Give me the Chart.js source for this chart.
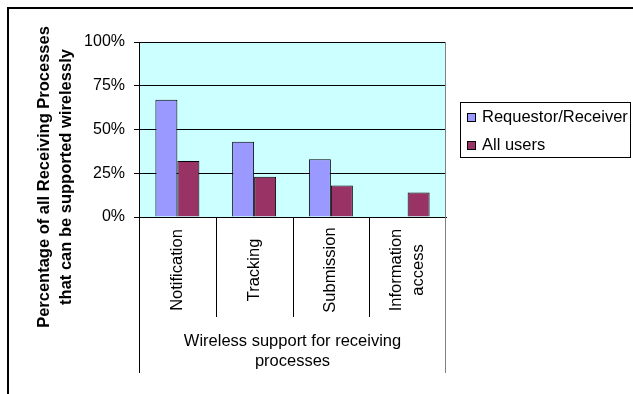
<!DOCTYPE html>
<html>
<head>
<meta charset="utf-8">
<script src="https://cdn.jsdelivr.net/npm/chart.js@4/dist/chart.umd.min.js"></script>
<style>
  html, body { margin: 0; padding: 0; background: #fff; overflow: hidden; }
  #wrap { position: relative; width: 633px; height: 394px; }
</style>
</head>
<body>
<div id="wrap"><canvas id="chart"></canvas></div>
<script>
// Data
const categories = ['Notification', 'Tracking', 'Submission', ['Information', 'access']];
const requestorReceiver = [67, 43, 33, 0];
const allUsers = [32, 23, 18, 14];
const yTicks = [0, 25, 50, 75, 100];
const seriesNames = ['Requestor/Receiver', 'All users'];
const yTitle = ['Percentage of all Receiving Processes', 'that can be supported wirelessly'];
const xTitle = ['Wireless support for receiving', 'processes'];

const FONT = '"Liberation Sans", Arial, sans-serif';
const COLORS = { blue: '#9999FF', red: '#993366', plot: '#CCFFFF', grid: '#000000', edge: '#808080' };

// Everything Excel draws around the plot: frame, category boxes, titles, legend
const excelBits = {
  id: 'excelBits',
  beforeDraw(chart) {
    const { ctx, chartArea: a } = chart;
    ctx.save();
    ctx.fillStyle = '#fff';
    ctx.fillRect(0, 0, chart.width, chart.height);
    ctx.fillStyle = COLORS.plot;
    ctx.fillRect(a.left, a.top, a.right - a.left, a.bottom - a.top);
    ctx.restore();
  },
  afterDraw(chart) {
    const { ctx, chartArea: a, scales: { x } } = chart;
    const n = chart.data.labels.length;
    ctx.save();
    ctx.lineWidth = 1;

    // category separators below the axis
    ctx.strokeStyle = '#000';
    ctx.beginPath();
    for (let i = 0; i < n - 1; i++) {
      const sx = Math.round((x.getPixelForValue(i) + x.getPixelForValue(i + 1)) / 2) + 0.5;
      ctx.moveTo(sx, a.bottom);
      ctx.lineTo(sx, 317);
    }
    ctx.moveTo(a.left + 0.5, a.bottom);
    ctx.lineTo(a.left + 0.5, 373);
    ctx.stroke();

    ctx.strokeStyle = COLORS.edge;
    ctx.beginPath();
    ctx.moveTo(a.right - 0.5, a.top);
    ctx.lineTo(a.right - 0.5, 373);
    ctx.stroke();

    // rotated category labels
    ctx.fillStyle = '#000';
    ctx.font = '16.5px ' + FONT;
    ctx.textAlign = 'center';
    ctx.textBaseline = 'middle';
    chart.data.labels.forEach((lab, i) => {
      const lines = Array.isArray(lab) ? lab : [lab];
      ctx.save();
      ctx.translate(x.getPixelForValue(i), 270);
      ctx.rotate(-Math.PI / 2);
      lines.forEach((t, j) => ctx.fillText(t, 0, (j - (lines.length - 1) / 2) * 22));
      ctx.restore();
    });

    // x axis title
    const cx = (a.left + a.right) / 2;
    xTitle.forEach((t, j) => ctx.fillText(t, cx, 341 + j * 20));

    // y axis title
    ctx.font = 'bold 16.5px ' + FONT;
    ctx.save();
    ctx.translate(44, 177);
    ctx.rotate(-Math.PI / 2);
    yTitle.forEach((t, j) => ctx.fillText(t, 0, j * 22));
    ctx.restore();

    // legend
    ctx.strokeStyle = '#000';
    ctx.strokeRect(460.5, 102.5, 170, 55);
    ctx.font = '16.5px ' + FONT;
    ctx.textAlign = 'left';
    chart.data.datasets.forEach((ds, j) => {
      const cy = 117 + j * 28;
      ctx.fillStyle = ds.backgroundColor;
      ctx.fillRect(467, cy - 4, 9, 9);
      ctx.strokeRect(467.5, cy - 3.5, 8, 8);
      ctx.fillStyle = '#000';
      ctx.fillText(ds.label, 482, cy);
    });

    // outer chart frame (right/bottom run off the picture)
    ctx.lineWidth = 2;
    ctx.beginPath();
    ctx.moveTo(8, chart.height);
    ctx.lineTo(8, 8);
    ctx.lineTo(chart.width, 8);
    ctx.stroke();
    ctx.restore();
  }
};

new Chart(document.getElementById('chart'), {
  type: 'bar',
  data: {
    labels: categories,
    datasets: [
      { label: seriesNames[0], data: requestorReceiver, backgroundColor: COLORS.blue, borderColor: '#000', borderWidth: 1 },
      { label: seriesNames[1], data: allUsers, backgroundColor: COLORS.red, borderColor: '#000', borderWidth: 1 }
    ]
  },
  options: {
    responsive: true, maintainAspectRatio: false, animation: false,
    devicePixelRatio: 1,
    layout: { padding: { left: 0, top: 42, right: 187, bottom: 0 } },
    datasets: { bar: { categoryPercentage: 0.573, barPercentage: 1 } },
    plugins: { legend: { display: false }, tooltip: { enabled: false } },
    scales: {
      x: {
        ticks: { display: false },
        grid: { display: false },
        border: { color: '#000', width: 1 },
        afterFit: s => { s.height = 177; }
      },
      y: {
        min: 0, max: 100,
        afterBuildTicks: s => { s.ticks = yTicks.map(v => ({ value: v })); },
        ticks: { callback: v => v + '%', color: '#000', padding: 9, font: { family: FONT, size: 16 } },
        grid: { color: COLORS.grid, tickLength: 5, tickColor: '#000' },
        border: { color: '#000', width: 1 },
        afterFit: s => { s.width = 139; }
      }
    }
  },
  plugins: [excelBits]
});
</script>
</body>
</html>
